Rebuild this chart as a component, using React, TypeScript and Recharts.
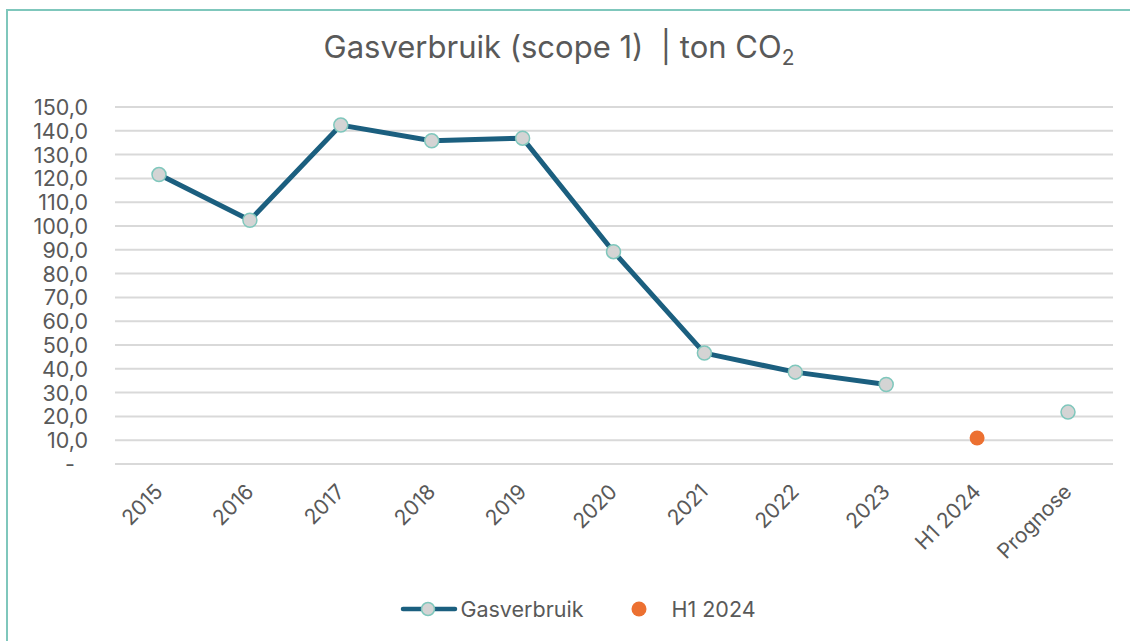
import React from 'react';
import { LineChart, Line, XAxis, YAxis, CartesianGrid, Legend } from 'recharts';

const categories = ['2015', '2016', '2017', '2018', '2019', '2020', '2021', '2022', '2023', 'H1 2024', 'Prognose'];
const gasverbruik = [121.6, 102.4, 142.4, 135.8, 136.9, 89.2, 46.6, 38.6, 33.4, null, 21.8];
const h1_2024 = [null, null, null, null, null, null, null, null, null, 10.9, null];
const yTicks = [0, 10, 20, 30, 40, 50, 60, 70, 80, 90, 100, 110, 120, 130, 140, 150];

const data = categories.map((name, i) => ({
    name,
    gas: gasverbruik[i],
    h1: h1_2024[i]
}));

const FONT = 'Inter, "Open Sans", sans-serif';
const TEXT = '#595959';
const LINE = '#1b5f7f';
const DOT_FILL = '#d4d4d4';
const DOT_STROKE = '#7fc7bc';
const ORANGE = '#ec7031';
const GRID = '#d9d9d9';

const YTick = (props: any) => {
    const { x, y, payload } = props;
    const v = payload.value;
    const label = v === 0 ? '-' : v.toFixed(1).replace('.', ',');
    return (
        <text x={v === 0 ? x - 13 : x} y={y} dy={8} textAnchor="end" fill={TEXT} fontSize={21.5} fontFamily={FONT}>
            {label}
        </text>
    );
};

const XTick = (props: any) => {
    const { x, y, payload } = props;
    return (
        <g transform={`translate(${x + 5},${y + 21})`}>
            <text x={0} y={0} textAnchor="end" transform="rotate(-45)" fill={TEXT} fontSize={21} fontFamily={FONT}>
                {payload.value}
            </text>
        </g>
    );
};

const LegendContent = () => (
    <div style={{ display: 'flex', alignItems: 'center', justifyContent: 'center', fontFamily: FONT, fontSize: 21.5, color: TEXT, paddingLeft: 26 }}>
        <svg width={58} height={16} style={{ marginRight: 2 }}>
            <line x1={3} y1={8} x2={55} y2={8} stroke={LINE} strokeWidth={4.5} strokeLinecap="round" />
            <circle cx={28} cy={8} r={6.5} fill={DOT_FILL} stroke={DOT_STROKE} strokeWidth={1.5} />
        </svg>
        <span>Gasverbruik</span>
        <svg width={16} height={16} style={{ marginLeft: 48, marginRight: 24 }}>
            <circle cx={8} cy={8} r={7.5} fill={ORANGE} />
        </svg>
        <span>H1 2024</span>
    </div>
);

export default function App() {
    return (
        <div style={{ position: 'fixed', left: 0, top: 0, width: 1130, height: 641, background: '#ffffff', overflow: 'hidden' }}>
            <div style={{ position: 'absolute', left: 6, top: 9, width: 1200, height: 700, borderTop: `2px solid ${DOT_STROKE}`, borderLeft: `2px solid ${DOT_STROKE}` }} />
            <div style={{ position: 'absolute', left: 0, top: 28, width: 1118, textAlign: 'center', fontFamily: FONT, fontSize: 31, color: TEXT }}>
                Gasverbruik (scope 1)&nbsp; | ton CO<sub style={{ fontSize: 21, verticalAlign: -7 }}>2</sub>
            </div>
            <LineChart width={1130} height={641} data={data} margin={{ top: 107, right: 17, bottom: 0, left: 0 }}>
                <CartesianGrid vertical={false} stroke={GRID} strokeWidth={2} />
                <XAxis
                    dataKey="name"
                    height={177}
                    interval={0}
                    padding={{ left: 44, right: 45 }}
                    tickLine={false}
                    axisLine={{ stroke: GRID, strokeWidth: 2 }}
                    tick={<XTick />}
                />
                <YAxis
                    width={115}
                    domain={[0, 150]}
                    ticks={yTicks}
                    interval={0}
                    axisLine={false}
                    tickLine={false}
                    tickSize={0}
                    tickMargin={27}
                    tick={<YTick />}
                />
                <Legend
                    verticalAlign="middle"
                    align="center"
                    layout="horizontal"
                    content={<LegendContent />}
                    wrapperStyle={{ top: 596, left: 0, width: 1130 }}
                />
                <Line
                    dataKey="gas"
                    stroke={LINE}
                    strokeWidth={5}
                    dot={{ r: 7, fill: DOT_FILL, stroke: DOT_STROKE, strokeWidth: 1.5 }}
                    connectNulls={false}
                    isAnimationActive={false}
                />
                <Line
                    dataKey="h1"
                    stroke="none"
                    dot={{ r: 7.5, fill: ORANGE, stroke: ORANGE, strokeWidth: 0 }}
                    isAnimationActive={false}
                />
            </LineChart>
        </div>
    );
}
